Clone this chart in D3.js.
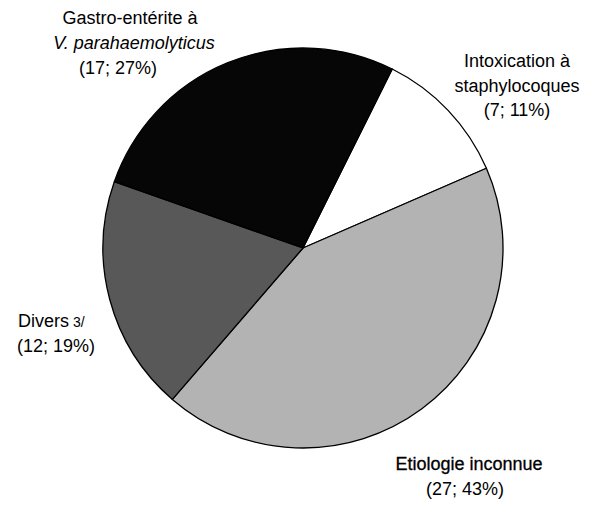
<!DOCTYPE html>
<html><head><meta charset="utf-8">
<script src="https://cdn.jsdelivr.net/npm/d3@7"></script>
<style>body{margin:0;background:#fff}svg{display:block}</style>
</head><body>
<svg id="c" width="600" height="509"></svg>
<script>
const categories = ["Intoxication à staphylocoques", "Etiologie inconnue", "Divers", "Gastro-entérite à V. parahaemolyticus"];
const counts = [7, 27, 12, 17];
const percents = [11, 43, 19, 27];
const fills = ["#ffffff", "#b3b3b3", "#585858", "#060606"];

const svg = d3.select("#c");
const cx = 303, cy = 248, R = 200;
const startDeg = 26.5;
const pie = d3.pie().sort(null).value(d => d)
  .startAngle(startDeg * Math.PI / 180)
  .endAngle((startDeg + 360) * Math.PI / 180);
const arcs = pie(counts);
const arc = d3.arc().innerRadius(0).outerRadius(R);
const g = svg.append("g").attr("transform", `translate(${cx},${cy})`);
g.selectAll("path").data(arcs).join("path")
  .attr("d", arc)
  .attr("fill", (d, i) => fills[i])
  .attr("stroke", "#000").attr("stroke-width", 1.3).attr("stroke-linejoin", "round");

const font = "'Liberation Sans', Arial, Helvetica, sans-serif";
const labels = [
  [{t: "Intoxication à", x: 517, y: 67}, {t: "staphylocoques", x: 517, y: 92}, {t: `(${counts[0]}; ${percents[0]}%)`, x: 517, y: 116}],
  [{t: "Etiologie inconnue", x: 469, y: 470, bold: true}, {t: `(${counts[1]}; ${percents[1]}%)`, x: 465, y: 495}],
  [{t: "Divers", x: 43, y: 327, sup: "3/"}, {t: `(${counts[2]}; ${percents[2]}%)`, x: 56, y: 352}],
  [{t: "Gastro-entérite à", x: 130, y: 24}, {t: "V. parahaemolyticus", x: 134, y: 49, italic: true}, {t: `(${counts[3]}; ${percents[3]}%)`, x: 118, y: 74}]
];
labels.forEach(lines => lines.forEach(l => {
  const t = svg.append("text")
    .attr("x", l.x).attr("y", l.y)
    .attr("text-anchor", "middle")
    .attr("font-family", font).attr("font-size", 18)
    .attr("fill", "#000")
    .attr("font-style", l.italic ? "italic" : "normal")
    .text(l.t);
  if (l.bold) t.attr("stroke", "#000").attr("stroke-width", 0.3);
  if (l.sup) {
    t.attr("text-anchor", "start").attr("x", l.x - 25);
    t.append("tspan").attr("font-size", 14).attr("dx", 4).text(l.sup);
  }
}));
</script>
</body></html>
